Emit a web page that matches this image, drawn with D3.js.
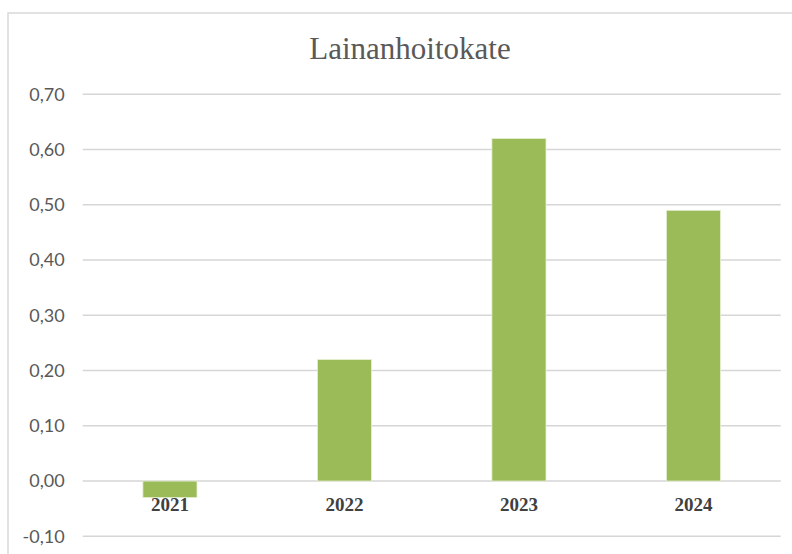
<!DOCTYPE html>
<html>
<head>
<meta charset="utf-8">
<script src="https://cdn.jsdelivr.net/npm/d3@7"></script>
<style>
  body { margin: 0; background: #fff; }
  svg { display: block; }
</style>
</head>
<body>
<div id="chart"></div>
<script>
// data
var years = ['2021', '2022', '2023', '2024'];
var values = [-0.03, 0.22, 0.62, 0.49];
var yTicks = [-0.1, 0, 0.1, 0.2, 0.3, 0.4, 0.5, 0.6, 0.7];
var title = 'Lainanhoitokate';

var width = 792, height = 554;
var margin = { top: 94.3, right: 11.3, bottom: 17.7, left: 82.7 };

var svg = d3.select('#chart').append('svg')
  .attr('width', width)
  .attr('height', height);

// chart border (extends past the right/bottom edge)
svg.append('rect')
  .attr('x', 8).attr('y', 13)
  .attr('width', 820).attr('height', 600)
  .attr('fill', '#fff')
  .attr('stroke', '#d9d9d9')
  .attr('stroke-width', 1.5);

var fi = d3.formatLocale({ decimal: ',', thousands: ' ', grouping: [3], currency: ['', ''], minus: '-' });
var fmt = fi.format('.2f');

var x = d3.scaleBand()
  .domain(years)
  .range([margin.left, width - margin.right]);

var y = d3.scaleLinear()
  .domain([-0.1, 0.7])
  .range([height - margin.bottom, margin.top]);

// gridlines
svg.append('g')
  .selectAll('line')
  .data(yTicks)
  .enter()
  .append('line')
  .attr('x1', margin.left)
  .attr('x2', width - margin.right)
  .attr('y1', function (d) { return y(d); })
  .attr('y2', function (d) { return y(d); })
  .attr('stroke', '#d6d6d6')
  .attr('stroke-width', 1.6);

// y axis labels
var yAxis = svg.append('g')
  .attr('transform', 'translate(' + (margin.left - 8) + ',0)')
  .call(d3.axisLeft(y).tickValues(yTicks).tickFormat(fmt).tickSize(0).tickPadding(10));
yAxis.select('.domain').remove();
yAxis.selectAll('text')
  .style('font-family', 'Lato, "Open Sans", sans-serif')
  .style('font-size', '18px')
  .attr('fill', '#595959');

// bars
var barW = x.bandwidth() * 0.31;
svg.append('g')
  .selectAll('rect')
  .data(years)
  .enter()
  .append('rect')
  .attr('x', function (d) { return x(d) + x.bandwidth() / 2 - barW / 2; })
  .attr('y', function (d, i) { return y(Math.max(0, values[i])); })
  .attr('width', barW)
  .attr('height', function (d, i) { return Math.abs(y(values[i]) - y(0)); })
  .attr('fill', '#9bbb59')
  .attr('stroke', '#e6efd4')
  .attr('stroke-width', 0.8);

// category labels
svg.append('g')
  .selectAll('text')
  .data(years)
  .enter()
  .append('text')
  .attr('x', function (d) { return x(d) + x.bandwidth() / 2; })
  .attr('y', y(0) + 29.5)
  .attr('text-anchor', 'middle')
  .style('font-family', '"Liberation Serif", "Times New Roman", serif')
  .style('font-weight', 'bold')
  .style('font-size', '19px')
  .attr('fill', '#404040')
  .text(function (d) { return d; });

// title
svg.append('text')
  .attr('x', 410)
  .attr('y', 59)
  .attr('text-anchor', 'middle')
  .style('font-family', '"Liberation Serif", "Times New Roman", serif')
  .style('font-size', '31px')
  .attr('fill', '#595959')
  .text(title);
</script>
</body>
</html>
